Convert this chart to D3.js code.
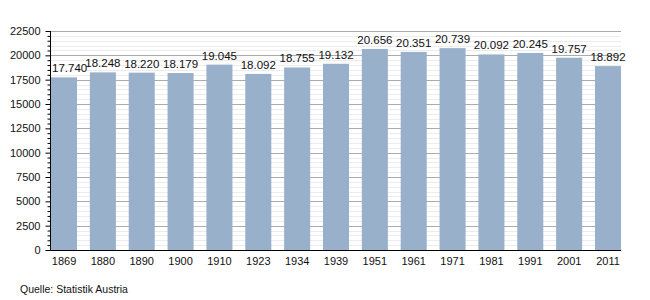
<!DOCTYPE html>
<html><head><meta charset="utf-8">
<script src="https://cdn.jsdelivr.net/npm/d3@7"></script>
<style>
html,body{margin:0;padding:0;background:#fff;}
svg text{font-family:"Liberation Sans",Arial,sans-serif;fill:#111;}
</style></head>
<body>
<svg id="c" width="650" height="300"></svg>
<script>
const years = ["1869","1880","1890","1900","1910","1923","1934","1939","1951","1961","1971","1981","1991","2001","2011"];
const values = [17740,18248,18220,18179,19045,18092,18755,19132,20656,20351,20739,20092,20245,19757,18892];
const yTicks = [0,2500,5000,7500,10000,12500,15000,17500,20000,22500];
const source = "Quelle: Statistik Austria";

(function(){
const svg = d3.select("#c");
const mLeft = 50, mRight = 621, mTop = 31, mBottom = 250;
const x = d3.scaleBand().domain(years).range([mLeft+1, mRight]).paddingInner(0.33).paddingOuter(0);
const y = d3.scaleLinear().domain([0,22500]).range([mBottom, mTop]);
const fmt = d3.formatLocale({decimal:",", thousands:".", grouping:[3], currency:["","€"]}).format(",d");

const minor = d3.range(0, 22501, 500).filter(v => v % 2500 !== 0);
svg.append("g").selectAll("line").data(minor).join("line")
  .attr("x1", mLeft).attr("x2", mRight)
  .attr("y1", d => Math.round(y(d))+0.5).attr("y2", d => Math.round(y(d))+0.5)
  .attr("stroke", "#ececec").attr("stroke-width", 1);
svg.append("g").selectAll("line").data(yTicks.filter(v=>v>0)).join("line")
  .attr("x1", mLeft).attr("x2", mRight)
  .attr("y1", d => Math.round(y(d))+0.5).attr("y2", d => Math.round(y(d))+0.5)
  .attr("stroke", "#ababab").attr("stroke-width", 1);

svg.append("g").selectAll("rect").data(values).join("rect")
  .attr("x", (d,i) => x(years[i])).attr("width", x.bandwidth())
  .attr("y", d => y(d)).attr("height", d => y(0) - y(d))
  .attr("fill", "#98b0c9");

const lab = svg.append("g").selectAll("text").data(values).join("text")
  .attr("x", (d,i) => x(years[i]) + x.bandwidth()/2)
  .attr("y", d => y(d) - 5)
  .attr("text-anchor", "middle").attr("font-size", "11.5px")
  .text(d => fmt(d));
lab.each(function(){
  const b = this.getBBox();
  if (b.x < mLeft + 2) d3.select(this).attr("x", +d3.select(this).attr("x") + (mLeft + 2 - b.x));
});

const yAxis = d3.axisLeft(y).tickValues(yTicks).tickSize(5).tickPadding(5).tickFormat(d3.format("d"));
const ga = svg.append("g").attr("transform", `translate(${mLeft+0.5},0)`).call(yAxis);
ga.select(".domain").remove();
ga.selectAll("line").attr("stroke", "#000");
ga.selectAll("text").attr("font-size", "11px").attr("font-family", "Liberation Sans, Arial, sans-serif").attr("fill","#111");
const ym = d3.axisLeft(y).tickValues(minor).tickSize(3).tickFormat("");
const gm = svg.append("g").attr("transform", `translate(${mLeft+0.5},0)`).call(ym);
gm.select(".domain").remove();
gm.selectAll("line").attr("stroke", "#000");

svg.append("line").attr("x1", mLeft+0.5).attr("x2", mLeft+0.5).attr("y1", mTop).attr("y2", mBottom+1).attr("stroke","#000");
svg.append("line").attr("x1", mLeft).attr("x2", mRight).attr("y1", mBottom+0.5).attr("y2", mBottom+0.5).attr("stroke","#000").attr("stroke-width",1.2);

const xAxis = d3.axisBottom(x).tickSize(0).tickPadding(6);
const gx = svg.append("g").attr("transform", `translate(0,${mBottom+1})`).call(xAxis);
gx.select(".domain").remove();
gx.selectAll("text").attr("font-size", "11px").attr("font-family", "Liberation Sans, Arial, sans-serif").attr("fill","#111");

svg.append("text").attr("x", 20).attr("y", 293).attr("font-size", "10.5px").text(source);
})();
</script>
</body></html>
